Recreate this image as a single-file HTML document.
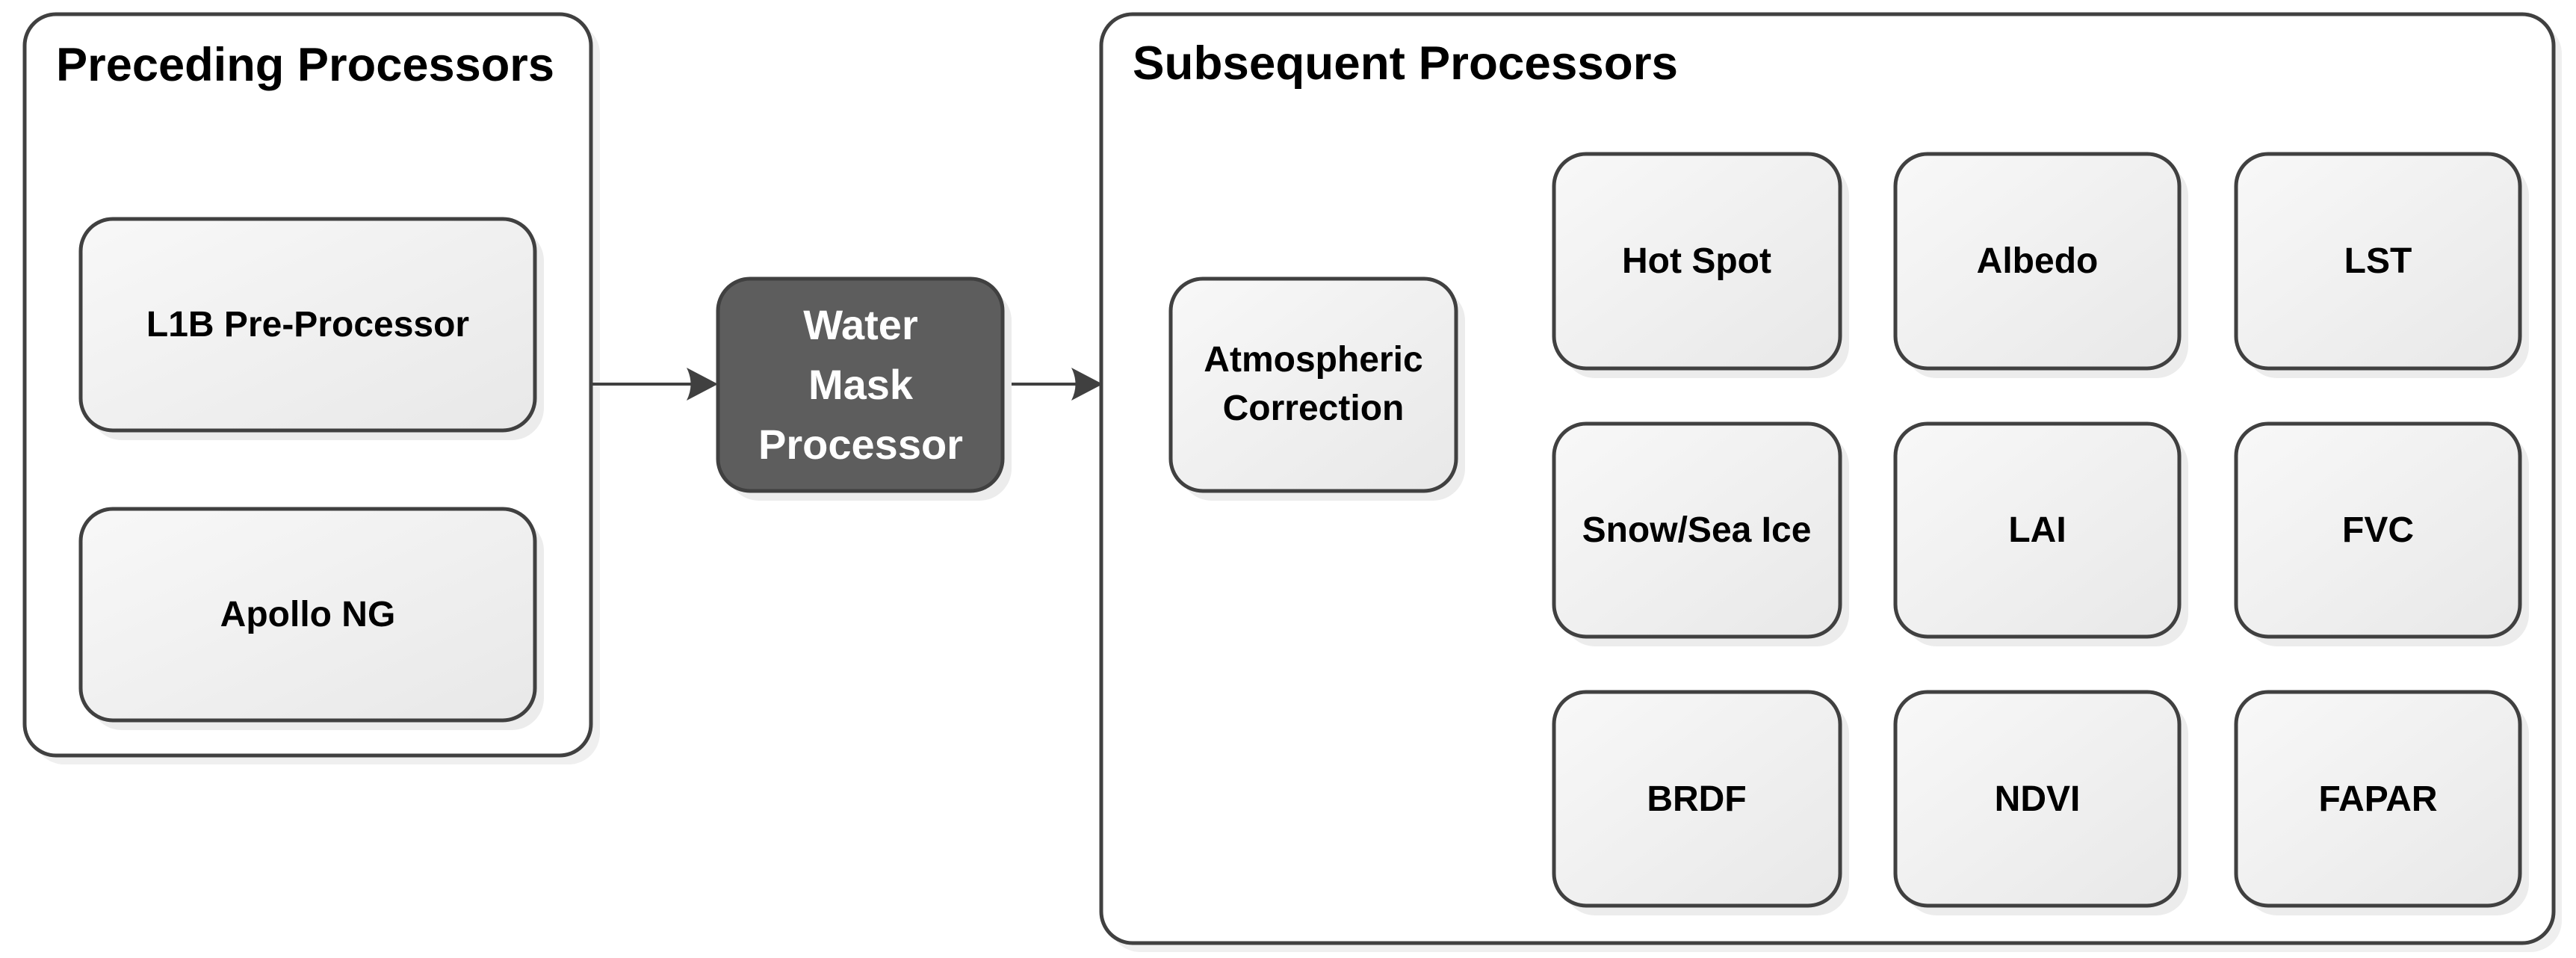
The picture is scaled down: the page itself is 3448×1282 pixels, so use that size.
<!DOCTYPE html>
<html><head><meta charset="utf-8"><style>
html,body{margin:0;padding:0;background:#fff;}
svg{display:block;}
text{font-family:"Liberation Sans",sans-serif;font-weight:bold;}
</style></head><body>
<svg width="3448" height="1282" viewBox="0 0 3448 1282" xmlns="http://www.w3.org/2000/svg">
<defs>
<linearGradient id="g" x1="0" y1="0" x2="1" y2="1">
<stop offset="0" stop-color="#f8f8f8"/><stop offset="1" stop-color="#e8e8e8"/>
</linearGradient>
</defs>
<!-- containers -->
<rect x="44" y="30" width="759" height="993" rx="42" fill="#efefef"/>
<rect x="33" y="19" width="758" height="992" rx="42" fill="#fff" stroke="#404040" stroke-width="5"/>
<text x="75" y="108" font-size="63" fill="#000" textLength="667" lengthAdjust="spacingAndGlyphs">Preceding Processors</text>

<rect x="1484" y="30" width="1945" height="1244" rx="42" fill="#efefef"/>
<rect x="1474" y="19" width="1944" height="1243" rx="42" fill="#fff" stroke="#404040" stroke-width="5"/>
<text x="1516" y="106" font-size="63" fill="#000" textLength="730" lengthAdjust="spacingAndGlyphs">Subsequent Processors</text>

<!-- connectors -->
<line x1="791" y1="514" x2="925" y2="514" stroke="#404040" stroke-width="4"/>
<path d="M961,514 L919,492 Q930,514 919,536 Z" fill="#404040"/>
<line x1="1342" y1="514" x2="1440" y2="514" stroke="#404040" stroke-width="4"/>
<path d="M1476,514 L1434,492 Q1445,514 1434,536 Z" fill="#404040"/>

<g font-size="48" text-anchor="middle" fill="#000">
<!-- preceding nodes -->
<rect x="120" y="306" width="608" height="283" rx="43" fill="#ececec"/>
<rect x="108" y="293" width="608" height="283" rx="43" fill="url(#g)" stroke="#404040" stroke-width="5"/>
<text x="412" y="450">L1B Pre-Processor</text>
<rect x="120" y="694" width="608" height="283" rx="43" fill="#ececec"/>
<rect x="108" y="681" width="608" height="283" rx="43" fill="url(#g)" stroke="#404040" stroke-width="5"/>
<text x="412" y="838">Apollo NG</text>

<!-- water mask -->
<rect x="973" y="386" width="381" height="284" rx="43" fill="#ececec"/>
<rect x="961" y="373" width="381" height="284" rx="43" fill="#5d5d5d" stroke="#404040" stroke-width="5"/>
<g font-size="56" fill="#fff">
<text x="1152" y="454">Water</text>
<text x="1152" y="534">Mask</text>
<text x="1152" y="614">Processor</text>
</g>

<!-- atmospheric -->
<rect x="1579" y="386" width="382" height="284" rx="43" fill="#ececec"/>
<rect x="1567" y="373" width="382" height="284" rx="43" fill="url(#g)" stroke="#404040" stroke-width="5"/>
<text x="1758" y="497">Atmospheric</text>
<text x="1758" y="562">Correction</text>

<!-- grid -->
<rect x="2092" y="219" width="383" height="287" rx="43" fill="#ececec"/>
<rect x="2080" y="206" width="383" height="287" rx="43" fill="url(#g)" stroke="#404040" stroke-width="5"/>
<text x="2271" y="365">Hot Spot</text>
<rect x="2549" y="219" width="380" height="287" rx="43" fill="#ececec"/>
<rect x="2537" y="206" width="380" height="287" rx="43" fill="url(#g)" stroke="#404040" stroke-width="5"/>
<text x="2727" y="365">Albedo</text>
<rect x="3005" y="219" width="380" height="287" rx="43" fill="#ececec"/>
<rect x="2993" y="206" width="380" height="287" rx="43" fill="url(#g)" stroke="#404040" stroke-width="5"/>
<text x="3183" y="365">LST</text>

<rect x="2092" y="580" width="383" height="285" rx="43" fill="#ececec"/>
<rect x="2080" y="567" width="383" height="285" rx="43" fill="url(#g)" stroke="#404040" stroke-width="5"/>
<text x="2271" y="725">Snow/Sea Ice</text>
<rect x="2549" y="580" width="380" height="285" rx="43" fill="#ececec"/>
<rect x="2537" y="567" width="380" height="285" rx="43" fill="url(#g)" stroke="#404040" stroke-width="5"/>
<text x="2727" y="725">LAI</text>
<rect x="3005" y="580" width="380" height="285" rx="43" fill="#ececec"/>
<rect x="2993" y="567" width="380" height="285" rx="43" fill="url(#g)" stroke="#404040" stroke-width="5"/>
<text x="3183" y="725">FVC</text>

<rect x="2092" y="939" width="383" height="286" rx="43" fill="#ececec"/>
<rect x="2080" y="926" width="383" height="286" rx="43" fill="url(#g)" stroke="#404040" stroke-width="5"/>
<text x="2271" y="1085">BRDF</text>
<rect x="2549" y="939" width="380" height="286" rx="43" fill="#ececec"/>
<rect x="2537" y="926" width="380" height="286" rx="43" fill="url(#g)" stroke="#404040" stroke-width="5"/>
<text x="2727" y="1085">NDVI</text>
<rect x="3005" y="939" width="380" height="286" rx="43" fill="#ececec"/>
<rect x="2993" y="926" width="380" height="286" rx="43" fill="url(#g)" stroke="#404040" stroke-width="5"/>
<text x="3183" y="1085">FAPAR</text>
</g>
</svg>
</body></html>
